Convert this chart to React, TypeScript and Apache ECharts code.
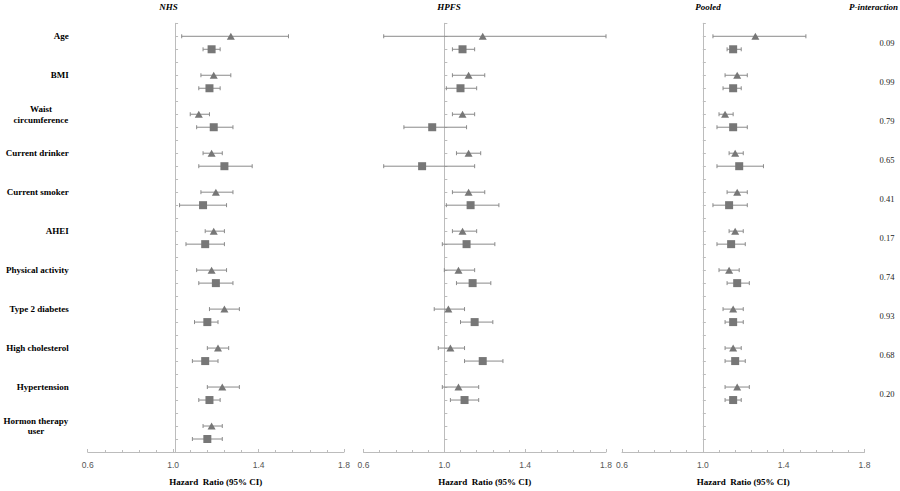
import React, { useEffect, useRef } from "react";
import * as echarts from "echarts";

// ---------------- data ----------------
const categories = [
  "Age",
  "BMI",
  "Waist\ncircumference",
  "Current drinker",
  "Current smoker",
  "AHEI",
  "Physical activity",
  "Type 2 diabetes",
  "High cholesterol",
  "Hypertension",
  "Hormon therapy\nuser",
];
const pInteraction = ["0.09", "0.99", "0.79", "0.65", "0.41", "0.17", "0.74", "0.93", "0.68", "0.20", ""];
const panelTitles = ["NHS", "HPFS", "Pooled"];
const xTicks = [0.6, 1.0, 1.4, 1.8];

// NHS (triangle = group A, square = group B)
const nhsTriHR = [1.27, 1.19, 1.12, 1.18, 1.2, 1.19, 1.18, 1.24, 1.21, 1.23, 1.18];
const nhsTriLo = [1.04, 1.13, 1.08, 1.14, 1.13, 1.15, 1.11, 1.17, 1.16, 1.16, 1.14];
const nhsTriHi = [1.54, 1.27, 1.17, 1.23, 1.28, 1.24, 1.25, 1.31, 1.26, 1.31, 1.23];
const nhsSqHR = [1.18, 1.17, 1.19, 1.24, 1.14, 1.15, 1.2, 1.16, 1.15, 1.17, 1.16];
const nhsSqLo = [1.14, 1.12, 1.11, 1.12, 1.03, 1.06, 1.12, 1.1, 1.09, 1.12, 1.09];
const nhsSqHi = [1.22, 1.22, 1.28, 1.37, 1.25, 1.24, 1.28, 1.21, 1.21, 1.22, 1.23];

// HPFS
const hpfsTriHR = [1.19, 1.12, 1.09, 1.12, 1.12, 1.09, 1.07, 1.02, 1.03, 1.07, null];
const hpfsTriLo = [0.7, 1.04, 1.04, 1.06, 1.04, 1.04, 1.0, 0.95, 0.97, 0.99, null];
const hpfsTriHi = [1.8, 1.2, 1.15, 1.18, 1.2, 1.16, 1.15, 1.1, 1.1, 1.17, null];
const hpfsSqHR = [1.09, 1.08, 0.94, 0.89, 1.13, 1.11, 1.14, 1.15, 1.19, 1.1, null];
const hpfsSqLo = [1.04, 1.01, 0.8, 0.7, 1.01, 0.99, 1.06, 1.08, 1.1, 1.03, null];
const hpfsSqHi = [1.15, 1.16, 1.11, 1.15, 1.27, 1.25, 1.23, 1.24, 1.29, 1.17, null];

// Pooled
const pooledTriHR = [1.26, 1.17, 1.11, 1.16, 1.17, 1.16, 1.13, 1.15, 1.15, 1.17, null];
const pooledTriLo = [1.05, 1.11, 1.08, 1.13, 1.12, 1.13, 1.08, 1.1, 1.11, 1.11, null];
const pooledTriHi = [1.51, 1.22, 1.15, 1.2, 1.22, 1.2, 1.18, 1.2, 1.19, 1.23, null];
const pooledSqHR = [1.15, 1.15, 1.15, 1.18, 1.13, 1.14, 1.17, 1.15, 1.16, 1.15, null];
const pooledSqLo = [1.12, 1.1, 1.07, 1.07, 1.05, 1.07, 1.12, 1.11, 1.11, 1.11, null];
const pooledSqHi = [1.19, 1.19, 1.22, 1.3, 1.22, 1.21, 1.23, 1.2, 1.21, 1.19, null];

// ---------------- layout ----------------
const GRID_TOP = 23.3;
const GRID_H = 437.2;
const grids = [
  { left: 82, width: 262 },
  { left: 363.5, width: 242.5 },
  { left: 622, width: 242.5 },
];
const SLOTS = 33;
const MARK = "#777777";
const BAR = "#8a8a8a";
const AXIS = "#bcbcbc";
const SERIF = "'Liberation Serif', 'Times New Roman', serif";
const SANS = "'Liberation Sans', Arial, sans-serif";

function measure(text: string, font: string) {
  const c = document.createElement("canvas").getContext("2d");
  if (!c) return text.length * 5;
  c.font = font;
  return c.measureText(text).width;
}

export default function App() {
  const ref = useRef<HTMLDivElement>(null);
  useEffect(() => {
    document.body.style.margin = "0";
    if (!ref.current) return;
    const chart = echarts.init(ref.current, null, { renderer: "svg" });

    const panels = [
      { tri: [nhsTriHR, nhsTriLo, nhsTriHi], sq: [nhsSqHR, nhsSqLo, nhsSqHi] },
      { tri: [hpfsTriHR, hpfsTriLo, hpfsTriHi], sq: [hpfsSqHR, hpfsSqLo, hpfsSqHi] },
      { tri: [pooledTriHR, pooledTriLo, pooledTriHi], sq: [pooledSqHR, pooledSqLo, pooledSqHi] },
    ];

    const labelFont = `bold 9px 'Liberation Serif'`;
    const rich: any = {};
    const catFormatted = categories.map((c, i) => {
      const lines = c.split("\n");
      if (lines.length === 1) return c;
      const w = Math.max(...lines.map((l) => measure(l, labelFont))) + 1;
      rich["m" + i] = {
        width: w,
        align: "center",
        fontFamily: SERIF,
        fontWeight: "bold",
        fontSize: 9,
        lineHeight: 10.7,
        color: "#000",
      };
      return lines.map((l) => `{m${i}|${l}}`).join("\n");
    });

    const xAxes: any[] = grids.map((g, gi) => ({
      type: "value",
      gridIndex: gi,
      min: 0.6,
      max: 1.8,
      interval: 0.4,
      axisLine: { onZero: false, lineStyle: { color: AXIS, width: 1 } },
      axisTick: { show: true, inside: true, length: 3, lineStyle: { color: AXIS } },
      minorTick: { show: true, splitNumber: 5, length: 2, lineStyle: { color: AXIS } },
      splitLine: { show: false },
      axisLabel: {
        margin: 8,
        color: "#555",
        fontFamily: SANS,
        fontSize: 8.5,
        formatter: (v: number) => v.toFixed(1),
      },
      name: "Hazard  Ratio (95% CI)",
      nameLocation: "middle",
      nameGap: 25,
      nameTextStyle: { fontFamily: SERIF, fontWeight: "bold", fontSize: 9, color: "#000" },
    }));

    const yAxes: any[] = grids.map((g, gi) => ({
      type: "value",
      gridIndex: gi,
      min: 0,
      max: SLOTS,
      interval: 1,
      inverse: true,
      position: "left",
      offset: -g.width / 3,
      axisLine: { show: true, onZero: false, lineStyle: { color: AXIS, width: 1 } },
      axisTick: { show: true, inside: true, length: 3, lineStyle: { color: AXIS } },
      axisLabel: { show: false },
      splitLine: { show: false },
    }));
    // category labels on far left
    yAxes.push({
      type: "value",
      gridIndex: 0,
      min: 0,
      max: SLOTS,
      interval: 1,
      inverse: true,
      position: "left",
      offset: 0,
      axisLine: { show: false },
      axisTick: { show: false },
      splitLine: { show: false },
      axisLabel: {
        margin: 19,
        fontFamily: SERIF,
        fontWeight: "bold",
        fontSize: 9,
        lineHeight: 10.7,
        color: "#000",
        rich,
        formatter: (v: number) => {
          const k = Math.round(v);
          if ((k - 1) % 3 !== 0) return "";
          const i = (k - 1) / 3;
          return catFormatted[i] ?? "";
        },
      },
    });
    // P-interaction on far right
    yAxes.push({
      type: "value",
      gridIndex: 2,
      min: 0,
      max: SLOTS,
      interval: 0.5,
      inverse: true,
      position: "right",
      offset: 0,
      axisLine: { show: false },
      axisTick: { show: false },
      splitLine: { show: false },
      axisLabel: {
        margin: 15,
        fontFamily: SERIF,
        fontSize: 8.5,
        color: "#222",
        formatter: (v: number) => {
          const r = v - 1.5;
          if (Math.abs(r % 3) > 1e-6) return "";
          const i = Math.round(r / 3);
          return pInteraction[i] ?? "";
        },
      },
    });

    const series: any[] = [];
    panels.forEach((p, gi) => {
      const groups = [
        { arr: p.tri, off: 1, symbol: "triangle", size: [8, 7] },
        { arr: p.sq, off: 2, symbol: "rect", size: 8 },
      ];
      groups.forEach((grp) => {
        const [hr, lo, hi] = grp.arr;
        const bars: any[] = [];
        const pts: any[] = [];
        hr.forEach((v: number | null, i: number) => {
          if (v == null) return;
          const slot = 3 * i + grp.off;
          bars.push([lo[i], hi[i], slot]);
          pts.push([v, slot]);
        });
        series.push({
          type: "custom",
          xAxisIndex: gi,
          yAxisIndex: gi,
          data: bars,
          encode: { x: [0, 1], y: 2 },
          z: 2,
          renderItem: (params: any, api: any) => {
            const a = api.coord([api.value(0), api.value(2)]);
            const b = api.coord([api.value(1), api.value(2)]);
            const st = { stroke: BAR, lineWidth: 1 };
            const h = 2;
            return {
              type: "group",
              children: [
                { type: "line", shape: { x1: a[0], y1: a[1], x2: b[0], y2: b[1] }, style: st },
                { type: "line", shape: { x1: a[0], y1: a[1] - h, x2: a[0], y2: a[1] + h }, style: st },
                { type: "line", shape: { x1: b[0], y1: b[1] - h, x2: b[0], y2: b[1] + h }, style: st },
              ],
            };
          },
        });
        series.push({
          type: "scatter",
          xAxisIndex: gi,
          yAxisIndex: gi,
          data: pts,
          symbol: grp.symbol,
          symbolSize: grp.size,
          itemStyle: { color: MARK, opacity: 1 },
          z: 3,
        });
      });
    });

    const titleX = [168.5, 449, 708];
    const graphic: any[] = panelTitles.map((t, i) => ({
      type: "text",
      x: titleX[i],
      y: 7,
      style: {
        text: t,
        align: "center",
        verticalAlign: "middle",
        fontFamily: SERIF,
        fontWeight: "bold",
        fontStyle: "italic",
        fontSize: 9,
        fill: "#000",
      },
    }));
    graphic.push({
      type: "text",
      x: 898,
      y: 7,
      style: {
        text: "P-interaction",
        align: "right",
        verticalAlign: "middle",
        fontFamily: SERIF,
        fontWeight: "bold",
        fontStyle: "italic",
        fontSize: 9,
        fill: "#000",
      },
    });

    chart.setOption({
      animation: false,
      backgroundColor: "#fff",
      grid: grids.map((g) => ({ left: g.left, width: g.width, top: GRID_TOP, height: GRID_H, containLabel: false })),
      xAxis: xAxes,
      yAxis: yAxes,
      series,
      graphic,
    });
    return () => chart.dispose();
  }, []);
  return <div ref={ref} style={{ position: "absolute", left: 0, top: 0, width: 900, height: 491 }} />;
}
